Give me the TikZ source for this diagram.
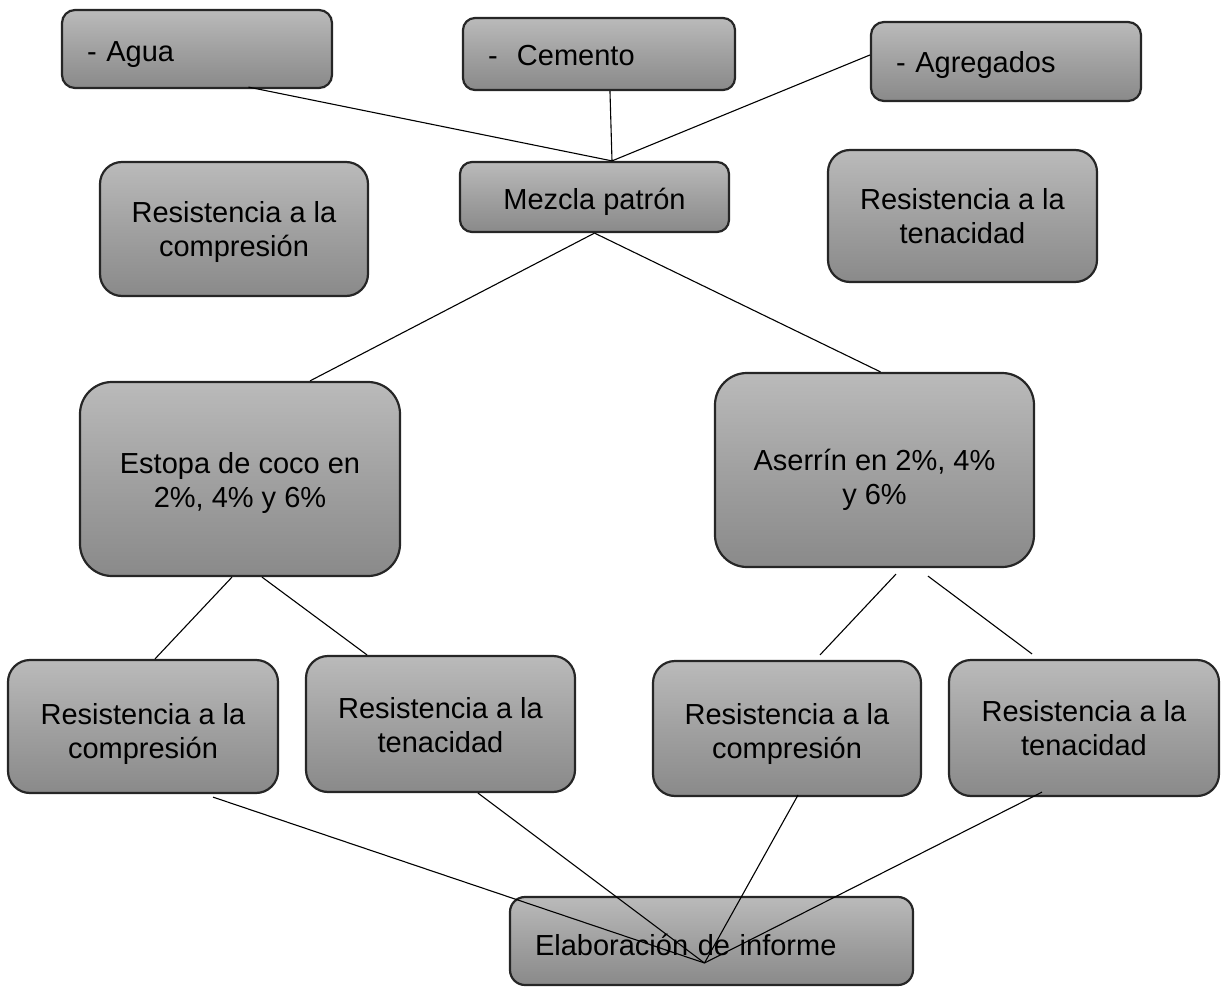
\documentclass[tikz,border=0pt]{standalone}
\usepackage{fontspec}
\setmainfont{Liberation Sans}
\usetikzlibrary{calc}
\newcommand{\lowc}[2]{\raisebox{-#1pt}[\height][\depth]{\begin{tabular}{@{}c@{}}#2\end{tabular}}}
\newcommand{\lowl}[2]{\raisebox{-#1pt}[\height][\depth]{#2}}
\begin{document}
\begin{tikzpicture}[x=1pt,y=-1pt,
  box/.style={draw=black!85, line width=2.2pt, top color=black!27, bottom color=black!46, middle color=black!37,
    inner sep=0pt, align=center, font=\fontsize{29}{34}\selectfont, text=black},
  leftbox/.style={box, align=left, inner xsep=25pt},
  conn/.style={draw=black, line width=1.1pt}]
\useasboundingbox (0,0) rectangle (1221,995);
% top inputs
\node[leftbox, minimum width=270pt, minimum height=78pt, text width=220pt, rounded corners=13pt] (agua) at (197,49) {\lowl{6}{- Agua}};
\node[leftbox, minimum width=272pt, minimum height=72pt, text width=222pt, rounded corners=12pt] (cemento) at (599,54) {\lowl{2}{-\ \ Cemento}};
\node[leftbox, minimum width=270pt, minimum height=79pt, text width=220pt, rounded corners=13pt] (agregados) at (1006,61.5) {\lowl{4}{- Agregados}};
% second row
\node[box, minimum width=268pt, minimum height=134pt, rounded corners=22pt] (rc0) at (234,229) {\lowc{4}{Resistencia a la\\compresión}};
\node[box, minimum width=269pt, minimum height=70pt, rounded corners=12pt] (mezcla) at (594.5,197) {\lowl{5}{Mezcla patrón}};
\node[box, minimum width=269pt, minimum height=132pt, rounded corners=22pt] (rt0) at (962.5,216) {Resistencia a la\\tenacidad};
% fibres
\node[box, minimum width=320pt, minimum height=194pt, rounded corners=32pt] (estopa) at (240,479) {\lowc{5}{Estopa de coco en\\2\%, 4\% y 6\%}};
\node[box, minimum width=319pt, minimum height=194pt, rounded corners=32pt] (aserrin) at (874.5,470) {\lowc{11}{Aserrín en 2\%, 4\%\\y 6\%}};
% tests
\node[box, minimum width=270pt, minimum height=133pt, rounded corners=22pt] (b1) at (143,726.5) {\lowc{8}{Resistencia a la\\compresión}};
\node[box, minimum width=269pt, minimum height=136pt, rounded corners=22pt] (b2) at (440.5,724) {\lowc{5}{Resistencia a la\\tenacidad}};
\node[box, minimum width=268pt, minimum height=135pt, rounded corners=22pt] (b3) at (787,728.5) {\lowc{6}{Resistencia a la\\compresión}};
\node[box, minimum width=270pt, minimum height=136pt, rounded corners=22pt] (b4) at (1084,728) {Resistencia a la\\tenacidad};
% report
\node[leftbox, minimum width=403pt, minimum height=88pt, text width=353pt, rounded corners=15pt] (elab) at (711.5,941) {\lowl{4}{Elaboración de informe}};
% connectors
\coordinate (mtop) at ($(mezcla.north)+(17.5,0)$);
\coordinate (conv) at ($(elab.center)+(-7,22)$);
\draw[conn] ($(agua.south west)!0.689!(agua.south east)+(0,-2)$) -- (mtop);
\draw[conn] ($(cemento.south west)!0.54!(cemento.south east)$) -- (mtop);
\draw[conn] ($(agregados.west)+(0,-6.5)$) -- (mtop);
\draw[conn] (mezcla.south) -- ($(estopa.north)+(70,0)$);
\draw[conn] (mezcla.south) -- ($(aserrin.north)+(6,0)$);
\draw[conn] ($(estopa.south)+(-8,0)$) -- ($(b1.north)+(12,0)$);
\draw[conn] ($(estopa.south)+(22,0)$) -- ($(b2.north)+(-73.5,0)$);
\draw[conn] ($(aserrin.south)+(21.5,6)$) -- ($(b3.north)+(33,-5)$);
\draw[conn] ($(aserrin.south)+(53.5,8)$) -- ($(b4.north)+(-52,-5)$);
\draw[conn] ($(b1.south)+(70,3)$) -- (conv);
\draw[conn] ($(b2.south)+(37.5,0)$) -- (conv);
\draw[conn] ($(b3.south)+(11,-2)$) -- (conv);
\draw[conn] ($(b4.south)+(-42,-5)$) -- (conv);
\end{tikzpicture}
\end{document}
